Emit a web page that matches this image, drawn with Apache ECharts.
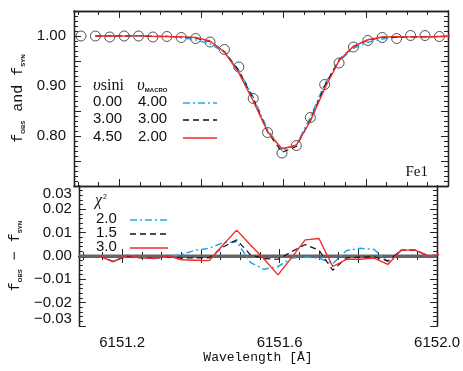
<!DOCTYPE html>
<html>
<head>
<meta charset="utf-8">
<script src="https://cdn.jsdelivr.net/npm/echarts@6/dist/echarts.min.js"></script>
<style>
html, body { margin: 0; padding: 0; background: #fff; }
#main { width: 463px; height: 371px; }
</style>
</head>
<body>
<div id="main"></div>
<script>
// observed line profile (circles)
var wave = [6151.107, 6151.142, 6151.177, 6151.212, 6151.247, 6151.282, 6151.316, 6151.351, 6151.386,
	6151.421, 6151.456, 6151.491, 6151.526, 6151.561, 6151.596, 6151.631, 6151.665, 6151.700,
	6151.735, 6151.770, 6151.805, 6151.840, 6151.875, 6151.909, 6151.944, 6151.979];
var fObs = [1.000, 1.000, 0.998, 1.000, 1.000, 0.998, 0.999, 0.997, 0.995, 0.988, 0.973, 0.938, 0.875,
	0.807, 0.766, 0.781, 0.837, 0.903, 0.946, 0.978, 0.991, 0.997, 0.995, 1.001, 1.001, 0.999];

// synthetic spectra grid
var waveSyn = [6151.142, 6151.177, 6151.212, 6151.247, 6151.282, 6151.316, 6151.351, 6151.386,
	6151.421, 6151.456, 6151.491, 6151.526, 6151.561, 6151.596, 6151.631, 6151.665, 6151.700,
	6151.735, 6151.770, 6151.805, 6151.840, 6151.875, 6151.909, 6151.944, 6151.979, 6152.014];
// vsini 0.00 / vmacro 4.00
var synBlue = [1.000, 1.0005, 1.000, 1.0006, 0.9992, 0.9992, 0.9964, 0.9923, 0.9845, 0.967, 0.9315, 0.878,
	0.813, 0.7708, 0.782, 0.8375, 0.904, 0.9495, 0.9755, 0.9875, 0.994, 0.9975, 0.9983, 0.9983, 0.999, 0.9995];
// vsini 3.00 / vmacro 3.00
var synBlack = [1.000, 1.0005, 1.000, 1.0008, 0.999, 0.9992, 0.998, 0.9958, 0.9888, 0.969, 0.9307, 0.8745,
	0.8082, 0.7675, 0.779, 0.8318, 0.9003, 0.9525, 0.9788, 0.9915, 0.9973, 0.9972, 0.9983, 0.9983, 0.999, 0.9995];
// vsini 4.50 / vmacro 2.00
var synRed = [1.000, 1.0005, 0.9997, 1.0008, 0.9992, 0.9989, 0.9987, 0.9969, 0.9901, 0.968, 0.9262, 0.870,
	0.8085, 0.7746, 0.7816, 0.8297, 0.895, 0.9508, 0.9795, 0.9925, 0.998, 0.9988, 0.9983, 0.9983, 0.999, 0.9995];

// residuals fobs - fsyn
var resBlue = [0, -0.0024, 0, -0.0006, -0.0011, -0.0002, 0.0006, 0.0025, 0.0033, 0.0057, 0.0061, -0.0028,
	-0.0057, -0.0045, -0.0009, -0.0005, -0.0009, -0.0033, 0.0024, 0.0033, 0.0028, -0.0024, 0.0025, 0.0025, 0, 0.0008];
var resBlack = [0, -0.0024, 0, -0.0008, -0.0009, -0.0002, -0.0009, -0.0008, -0.0008, 0.0038, 0.0069, 0.0005,
	-0.0011, -0.0014, 0.0019, 0.0049, 0.0025, -0.0061, -0.0008, -0.0005, -0.0003, -0.0021, 0.0025, 0.0025, 0, 0.0008];
var resRed = [0, -0.0024, 0.0003, -0.0008, -0.0011, 0.0001, -0.0016, -0.0018, -0.002, 0.0047, 0.0111, 0.0047,
	-0.0014, -0.0081, -0.0006, 0.0069, 0.0075, -0.0045, -0.0014, -0.0014, -0.0009, -0.0036, 0.0025, 0.0025, 0, 0.0008];

// legend entries
var vsiniList = ['0.00', '3.00', '4.50'];
var vmacroList = ['4.00', '3.00', '2.00'];
var chi2List = ['2.0', '1.5', '3.0'];

// axes
var xMin = 6151.09, xMax = 6152.0;
var xLabels = [6151.2, 6151.6, 6152.0];
var xMajor = [6151.2, 6151.4, 6151.6, 6151.8, 6152.0];
var yTopMin = 0.70, yTopMax = 1.05;
var yTopLabels = [0.80, 0.90, 1.00];
var yTopMajor = [0.75, 0.80, 0.85, 0.90, 0.95, 1.00];
var yBotMin = -0.03, yBotMax = 0.03;
var yBotLabels = [-0.03, -0.02, -0.01, 0, 0.01, 0.02, 0.03];

function steps(a, b, d) {
	var out = [];
	for (var v = a; v <= b + d / 2; v += d) out.push(Math.round(v * 10000) / 10000);
	return out;
}
var xMinor = steps(6151.1, 6152.0, 0.05);
var yTopMinor = steps(0.71, 1.04, 0.01);
var yBotMinor = steps(-0.028, 0.028, 0.002);

function zip(a, b) {
	return a.map(function (v, i) { return [v, b[i]]; });
}

var AX = '#222';
function tickAxis(grid, pos, min, max, vals, len) {
	return {
		type: 'value', gridIndex: grid, position: pos, min: min, max: max,
		axisLine: { show: true, lineStyle: { color: AX, width: 1.3 } },
		axisTick: { show: true, inside: true, length: len, customValues: vals, lineStyle: { color: AX, width: 1 } },
		axisLabel: { show: false },
		splitLine: { show: false }
	};
}

var labelFont = { fontFamily: 'Liberation Sans', fontSize: 15, color: '#111' };
var subStyle = { fontFamily: 'Liberation Sans', fontSize: 6, fontWeight: 'bold', color: '#111', padding: [9, 0, 0, 0] };
var monoStyle = { fontFamily: 'Liberation Mono', fontSize: 15, color: '#111' };

// x axes: 0-3 top panel, 4-7 bottom panel
var xAxes = [
	tickAxis(0, 'bottom', xMin, xMax, xMajor, 7),
	tickAxis(0, 'bottom', xMin, xMax, xMinor, 4),
	tickAxis(0, 'top', xMin, xMax, xMajor, 7),
	tickAxis(0, 'top', xMin, xMax, xMinor, 4),
	tickAxis(1, 'bottom', xMin, xMax, xMajor, 7),
	tickAxis(1, 'bottom', xMin, xMax, xMinor, 4),
	tickAxis(1, 'top', xMin, xMax, xMajor, 7),
	tickAxis(1, 'top', xMin, xMax, xMinor, 4)
];
xAxes[4].axisLabel = Object.assign({
	show: true, customValues: xLabels, margin: 9,
	formatter: function (v) { return v.toFixed(1); }
}, labelFont);
xAxes[4].name = 'Wavelength [Å]';
xAxes[4].nameLocation = 'middle';
xAxes[4].nameGap = 25;
xAxes[4].nameTextStyle = { fontFamily: 'Liberation Mono', fontSize: 13, color: '#111' };

var yAxes = [
	tickAxis(0, 'left', yTopMin, yTopMax, yTopMajor, 7),
	tickAxis(0, 'left', yTopMin, yTopMax, yTopMinor, 4),
	tickAxis(0, 'right', yTopMin, yTopMax, yTopMajor, 7),
	tickAxis(0, 'right', yTopMin, yTopMax, yTopMinor, 4),
	tickAxis(1, 'left', yBotMin, yBotMax, yBotLabels, 7),
	tickAxis(1, 'left', yBotMin, yBotMax, yBotMinor, 4),
	tickAxis(1, 'right', yBotMin, yBotMax, yBotLabels, 7),
	tickAxis(1, 'right', yBotMin, yBotMax, yBotMinor, 4)
];
yAxes[0].axisLabel = Object.assign({
	show: true, customValues: yTopLabels, margin: 8,
	formatter: function (v) { return v.toFixed(2); }
}, labelFont);
yAxes[0].name = '{f|f}{s|OBS}{f| and f}{s|SYN}';
yAxes[0].nameLocation = 'middle';
yAxes[0].nameGap = 42;
yAxes[0].nameTextStyle = { rich: { f: monoStyle, s: subStyle } };

yAxes[4].axisLabel = Object.assign({
	show: true, customValues: yBotLabels, margin: 7,
	verticalAlignMinLabel: 'bottom', verticalAlignMaxLabel: 'top',
	formatter: function (v) { return (v < 0 ? '\u2212' : '') + Math.abs(v).toFixed(2); }
}, labelFont);
yAxes[4].name = '{f|f}{s|OBS}{f| \u2212 f}{s|SYN}';
yAxes[4].nameLocation = 'middle';
yAxes[4].nameGap = 52;
yAxes[4].nameTextStyle = { rich: { f: monoStyle, s: subStyle } };

var BLUE = '#22a8ee', RED = '#f42a2a', BLACK = '#111';
var dashDot = [7, 3, 2, 3], dash = [6, 4];

function lineSeries(xi, yi, data, color, type, w) {
	return {
		type: 'line', xAxisIndex: xi, yAxisIndex: yi, data: data,
		symbol: 'none', showSymbol: false, clip: true, silent: true,
		lineStyle: { color: color, width: w, type: type }
	};
}

var series = [
	{
		type: 'scatter', xAxisIndex: 0, yAxisIndex: 0, data: zip(wave, fObs),
		symbol: 'circle', symbolSize: 10, silent: true,
		itemStyle: { color: 'rgba(0,0,0,0)', borderColor: '#111', borderWidth: 0.9 }
	},
	lineSeries(0, 0, zip(waveSyn, synBlue), BLUE, dashDot, 1.5),
	lineSeries(0, 0, zip(waveSyn, synBlack), BLACK, dash, 1.2),
	lineSeries(0, 0, zip(waveSyn, synRed), RED, 'solid', 1.4),
	lineSeries(4, 4, [[xMin, 0], [xMax, 0]], '#666', 'solid', 3),
	lineSeries(4, 4, zip(waveSyn, resBlue), BLUE, dashDot, 1.5),
	lineSeries(4, 4, zip(waveSyn, resBlack), BLACK, dash, 1.2),
	lineSeries(4, 4, zip(waveSyn, resRed), RED, 'solid', 1.4)
];

// hand-placed legends, as in the original figure
var graphic = [];
var numFont = '15px "Liberation Sans"';
var topRows = [102, 119, 137];
var topColors = [BLUE, BLACK, RED], topTypes = [dashDot, dash, null];
graphic.push({
	type: 'text', x: 93, y: 86,
	style: {
		text: '{u|υ}{n|sini}', textVerticalAlign: 'middle',
		rich: {
			u: { fontFamily: 'Liberation Serif', fontStyle: 'italic', fontSize: 17, fill: '#111' },
			n: { fontFamily: 'Liberation Serif', fontSize: 16, fill: '#111' }
		}
	}
});
graphic.push({
	type: 'text', x: 137, y: 86,
	style: {
		text: '{u|υ}{s|MACRO}', textVerticalAlign: 'middle',
		rich: {
			u: { fontFamily: 'Liberation Serif', fontStyle: 'italic', fontSize: 17, fill: '#111' },
			s: { fontFamily: 'Liberation Sans', fontSize: 6, fontWeight: 'bold', fill: '#111', padding: [9, 0, 0, 0] }
		}
	}
});
for (var i = 0; i < 3; i++) {
	graphic.push({ type: 'text', x: 93, y: topRows[i], style: { text: vsiniList[i], font: numFont, fill: '#111', textVerticalAlign: 'middle' } });
	graphic.push({ type: 'text', x: 138, y: topRows[i], style: { text: vmacroList[i], font: numFont, fill: '#111', textVerticalAlign: 'middle' } });
	graphic.push({
		type: 'line', shape: { x1: 183, y1: topRows[i] + 1, x2: 217, y2: topRows[i] + 1 },
		style: { stroke: topColors[i], lineWidth: i === 2 ? 1.4 : 1.3, lineDash: topTypes[i] }
	});
}
var botRows = [219, 233, 247];
graphic.push({
	type: 'text', x: 95, y: 201,
	style: {
		text: '{c|χ}{p|2}', textVerticalAlign: 'middle',
		rich: {
			c: { fontFamily: 'Liberation Serif', fontStyle: 'italic', fontSize: 16, fill: '#111' },
			p: { fontFamily: 'Liberation Sans', fontSize: 7, fill: '#111', padding: [0, 0, 8, 1] }
		}
	}
});
for (var j = 0; j < 3; j++) {
	graphic.push({ type: 'text', x: 96, y: botRows[j], style: { text: chi2List[j], font: numFont, fill: '#111', textVerticalAlign: 'middle' } });
	graphic.push({
		type: 'line', shape: { x1: 130, y1: botRows[j] + 1, x2: 168, y2: botRows[j] + 1 },
		style: { stroke: topColors[j], lineWidth: j === 2 ? 1.4 : 1.3, lineDash: topTypes[j] }
	});
}
graphic.push({
	type: 'text', x: 428, y: 172,
	style: { text: 'Fe1', font: '15px "Liberation Serif"', fill: '#111', textAlign: 'right', textVerticalAlign: 'middle' }
});

var myChart = echarts.init(document.getElementById('main'), null, { renderer: 'canvas' });
var option = {
	animation: false,
	backgroundColor: '#fff',
	grid: [
		{ left: 74, right: 15, top: 11, height: 175 },
		{ left: 74, right: 15, top: 186, height: 140 }
	],
	xAxis: xAxes,
	yAxis: yAxes,
	series: series,
	graphic: graphic
};
myChart.setOption(option);
</script>
</body>
</html>
